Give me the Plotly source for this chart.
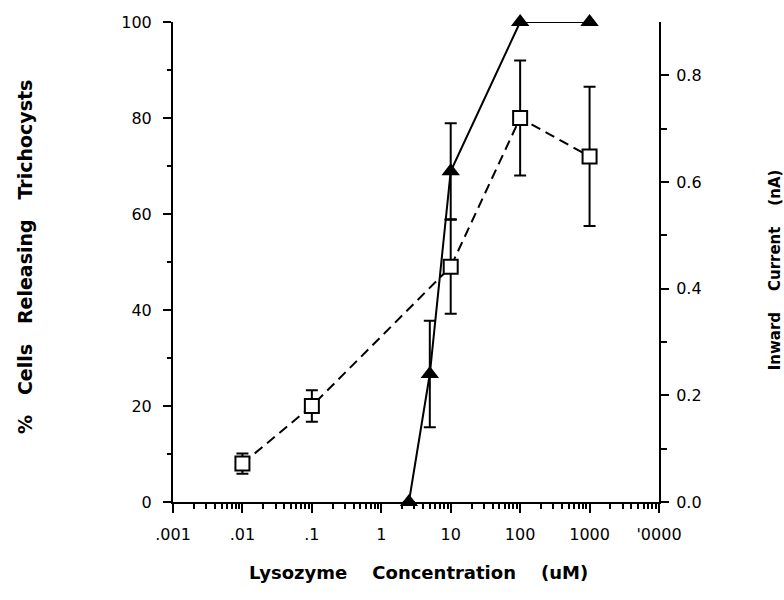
import plotly.graph_objects as go

# ---- data ----
conc_sq = [0.01, 0.1, 10, 100, 1000]
pct_cells = [8, 20, 49, 80, 72]
pct_err = [2.1, 3.3, 9.8, 12, 14.5]

conc_tri = [2.5, 5, 10, 100, 1000]
current_nA = [0.0, 0.24, 0.62, 0.90, 0.90]
current_err = [None, 0.10, 0.09, None, None]

x_tickvals = [0.001, 0.01, 0.1, 1, 10, 100, 1000, 10000]
x_ticktext = [".001", ".01", ".1", "1", "10", "100", "1000", "'0000"]
y_tickvals = [0, 20, 40, 60, 80, 100]
y_minor = [10, 30, 50, 70, 90]
y2_tickvals = [0.0, 0.2, 0.4, 0.6, 0.8]
y2_ticktext = ["0.0", "0.2", "0.4", "0.6", "0.8"]
y2_minor = [0.1, 0.3, 0.5, 0.7]
x_minor = [d * m for d in x_tickvals[:-1] for m in range(2, 10)]

NB = "\u00a0"
x_title = f"Lysozyme{NB*4}Concentration{NB*4}(uM)"
y_title = f"%{NB*3}Cells{NB*3}Releasing{NB*3}Trichocysts"
y2_title = f"Inward{NB*4}Current{NB*4}(nA)"

tickfont = dict(family="DejaVu Sans", size=16, color="black")

fig = go.Figure()
fig.add_trace(go.Scatter(
    x=conc_sq, y=pct_cells, mode="lines+markers",
    line=dict(color="black", width=2, dash="10px,6px"),
    marker=dict(symbol="square", size=14, color="white",
                line=dict(color="black", width=2)),
    error_y=dict(type="data", array=pct_err, visible=True,
                 color="black", thickness=2, width=6),
    cliponaxis=False, showlegend=False,
))
fig.add_trace(go.Scatter(
    x=conc_tri, y=current_nA, mode="lines+markers", yaxis="y2",
    line=dict(color="black", width=2),
    marker=dict(symbol="triangle-up", size=16, color="black"),
    error_y=dict(type="data", array=current_err, visible=True,
                 color="black", thickness=2, width=6),
    cliponaxis=False, showlegend=False,
))

axis_common = dict(showline=True, linecolor="black", linewidth=2,
                   ticks="outside", tickcolor="black", tickwidth=2,
                   showgrid=False, zeroline=False, tickfont=tickfont)

fig.update_layout(
    width=784, height=600,
    margin=dict(l=173, r=125, t=22, b=98),
    plot_bgcolor="white", paper_bgcolor="white",
    xaxis=dict(type="log", range=[-3, 4], tickmode="array",
               tickvals=x_tickvals, ticktext=x_ticktext, ticklen=9,
               ticklabelstandoff=8,
               minor=dict(tickmode="array", tickvals=x_minor, ticks="outside",
                          ticklen=5, tickwidth=1.5, tickcolor="black"),
               **axis_common),
    yaxis=dict(range=[0, 100], tickmode="array", tickvals=y_tickvals,
               ticklen=8, ticklabelstandoff=8,
               minor=dict(tickmode="array", tickvals=y_minor, ticks="outside",
                          ticklen=4, tickwidth=1.5, tickcolor="black"),
               **axis_common),
    yaxis2=dict(range=[0, 0.9], overlaying="y", side="right", tickmode="array",
                tickvals=y2_tickvals, ticktext=y2_ticktext, ticklen=8,
                ticklabelstandoff=4,
                minor=dict(tickmode="array", tickvals=y2_minor, ticks="outside",
                           ticklen=6, tickwidth=1.5, tickcolor="black"),
                **axis_common),
    annotations=[
        dict(text=x_title, xref="paper", yref="paper", x=0.505, y=-0.146,
             xanchor="center", yanchor="middle", showarrow=False,
             font=dict(family="DejaVu Sans", size=18, color="black", weight="bold")),
        dict(text=y_title, xref="paper", yref="paper", x=-0.305, y=0.51,
             xanchor="center", yanchor="middle", showarrow=False,
             textangle=-90,
             font=dict(family="DejaVu Sans", size=19, color="black", weight="bold")),
        dict(text=y2_title, xref="paper", yref="paper", x=1.239, y=0.483,
             xanchor="center", yanchor="middle", showarrow=False,
             textangle=-90, font=dict(family="DejaVu Sans", size=15,
                                      color="black", weight="bold")),
    ],
)

fig.write_html("out.html")
